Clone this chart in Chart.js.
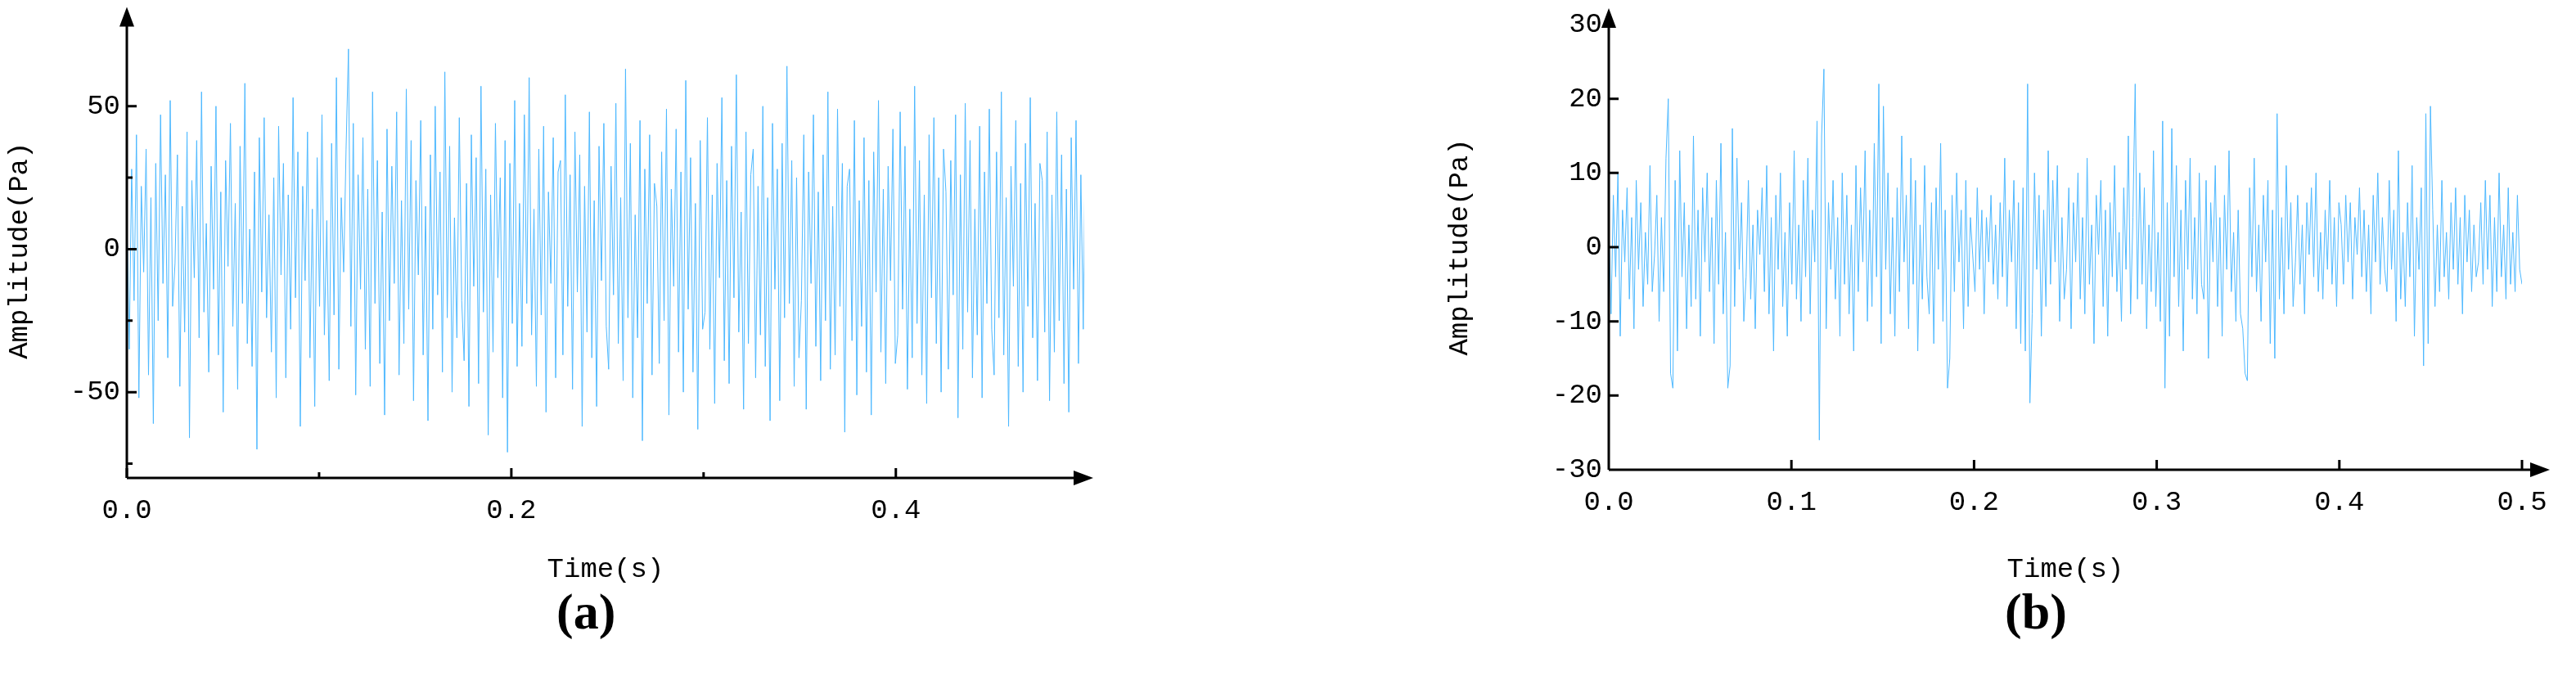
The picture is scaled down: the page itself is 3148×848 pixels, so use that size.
<!DOCTYPE html>
<html>
<head>
<meta charset="utf-8">
<script src="https://cdn.jsdelivr.net/npm/chart.js@4.4.1/dist/chart.umd.min.js"></script>
<style>
  body { margin: 0; background: #fff; width: 3148px; height: 848px; position: relative; overflow: hidden; }
  .box { position: absolute; top: 0; height: 720px; }
  #boxA { left: 0; width: 1360px; }
  #boxB { left: 1760px; width: 1388px; }
  .cap { position: absolute; top: 712px; font: bold 62px "Liberation Serif", serif; }
</style>
</head>
<body>
<div class="box" id="boxA"><canvas id="chartA"></canvas></div>
<div class="box" id="boxB"><canvas id="chartB"></canvas></div>
<div class="cap" style="left:680px">(a)</div>
<div class="cap" style="left:2450px">(b)</div>
<script>
// signal (a), sampled over 0 - 0.5 s
const ampA = [
  12,-35,28,-18,40,-52,22,-8,35,-44,18,-61,30,-25,47,-12,26,-38,52,-20,
  -5,33,-48,15,-29,41,-66,24,-10,38,-31,55,-22,9,-43,29,-14,50,-37,20,
  -57,31,-6,44,-27,16,-49,36,-19,58,-33,7,-41,27,-70,39,-15,46,-24,12,
  -36,25,-52,43,-9,30,-45,19,-28,53,-17,34,-62,22,-11,41,-38,14,-55,32,
  -20,47,-30,10,-46,37,-23,60,-42,18,-8,35,70,-27,44,-51,26,-14,39,-35,
  21,-48,55,-19,31,-40,13,-58,42,-25,29,-12,48,-44,17,-33,56,-21,38,-53,
  24,-9,45,-37,15,-60,33,-28,50,-16,27,-43,62,-24,36,-50,11,-31,46,-18,
  -39,23,-55,40,-13,32,-47,57,-22,28,-65,19,-36,44,-10,25,-52,38,-71,30,
  -26,52,-41,16,-34,47,-19,60,-30,14,-48,35,-23,43,-57,20,-12,39,-45,27,
  31,-37,54,-20,26,-49,41,-15,33,-62,22,-29,48,-38,17,-55,36,-11,44,-27,
  -42,29,-16,51,-33,18,-46,63,-24,37,-52,12,-31,45,-67,28,-19,40,-44,23,
  15,-40,34,-25,49,-58,21,-13,42,-36,27,-50,59,-21,32,-43,16,-63,38,-28,
  -22,46,-35,19,-54,30,-10,53,-39,24,-47,36,-17,61,-29,13,-56,41,-33,26,
  35,-45,22,-30,50,-41,18,-60,44,-14,28,-53,37,-24,64,-19,31,-48,25,-38,
  -18,40,-56,27,-12,47,-34,20,-46,33,-25,55,-42,15,-37,49,-20,30,-64,22,
  28,-32,45,-51,17,-27,39,-43,24,-58,34,-15,52,-36,21,-47,29,-11,42,-40,
  -30,48,-21,36,-49,14,-38,57,-26,31,-44,19,-54,40,-17,46,-33,25,-50,35,
  20,-42,31,-16,47,-59,26,-35,51,-22,38,-45,14,-30,43,-52,27,-19,49,-28,
  -44,34,-24,55,-37,18,-62,29,-13,45,-41,23,-50,37,-20,53,-31,16,-46,30,
  24,-29,41,-53,19,-36,48,-25,33,-47,21,-57,39,-14,45,-40,26,-28,52,18
];
// signal (b), sampled over 0 - 0.5 s
const ampB = [
  3,-9,7,-4,10,-12,5,-2,8,-7,4,-11,9,-3,6,-8,2,-5,11,-6,
  -1,7,-10,4,-6,12,20,-17,-19,9,-14,13,-4,6,-11,3,-8,15,-7,5,
  -12,8,-2,10,-6,4,-13,9,-5,14,-9,2,-19,-16,16,-8,12,-3,6,-10,
  -4,9,-7,3,-11,5,-1,8,-6,11,-9,4,-14,7,-3,10,-8,2,-12,6,
  -5,13,-7,3,-10,9,-4,12,-9,5,-2,17,-26,15,24,-11,6,-3,9,-7,
  4,-12,10,-5,7,-9,3,-14,11,-6,8,-2,13,-10,5,-8,14,-4,22,-13,
  19,-3,10,-9,4,-12,8,-6,15,-2,7,-11,12,-5,9,-14,3,-7,11,-4,
  -9,6,-13,8,-3,14,-10,5,-19,-15,7,-6,10,-2,5,-11,9,-8,4,-1,
  -6,8,-3,5,-9,4,-2,7,-5,3,-7,6,-4,12,-8,5,-2,9,-11,6,
  -13,8,-14,22,-21,-9,10,-3,7,-12,5,-8,13,-5,9,-2,11,-10,4,-7,
  -3,8,-11,6,-2,10,-7,4,-9,12,-5,3,-13,7,-1,9,-8,5,-12,6,
  -4,11,-6,2,-10,8,-3,15,-9,4,22,-7,10,-5,8,-11,3,-6,13,-8,
  2,-10,17,-19,6,-12,16,-4,11,-8,5,-14,9,-3,12,-7,4,-9,10,-5,
  -7,9,-15,6,-2,11,-8,4,-12,7,-3,13,-6,2,-10,5,-9,-11,-17,-18,
  8,-4,12,-6,3,-10,7,-2,9,-13,5,-15,18,-7,4,-9,11,-3,6,-8,
  -2,7,-5,3,-9,6,-1,8,-4,10,-6,2,-7,5,-3,9,-5,4,-8,6,
  3,-5,7,-2,6,-7,4,-1,8,-4,5,-6,3,-9,7,-2,10,-5,4,-3,
  -6,9,-3,5,-10,13,-7,2,-8,6,-4,11,-12,4,-3,8,-16,18,-13,19,
  5,-8,3,-6,9,-4,2,-7,6,-3,8,-5,4,-9,7,-2,5,-6,3,-4,
  -2,6,-5,9,-3,7,-8,4,-6,10,-4,3,-7,8,-5,2,-6,7,-3,-5
];
const yTicksA = [-50, 0, 50];
const yMinorA = [-75, -25, 25];
const xTicksA = [0.0, 0.2, 0.4];
const xMinorA = [0.1, 0.3];
const yTicksB = [-30, -20, -10, 0, 10, 20, 30];
const xTicksB = [0.0, 0.1, 0.2, 0.3, 0.4, 0.5];

const FONT = '"Liberation Mono", "DejaVu Sans Mono", monospace';

function toPoints(arr) {
  const dt = 0.5 / (arr.length - 1);
  return arr.map((v, i) => ({ x: i * dt, y: v }));
}

// axis lines, inward ticks and arrow heads
const axisPlugin = {
  id: 'axisArrows',
  afterDraw(chart, args, opts) {
    const ctx = chart.ctx;
    const xs = chart.scales.x, ys = chart.scales.y;
    const a = chart.chartArea;
    ctx.save();
    ctx.strokeStyle = '#000';
    ctx.fillStyle = '#000';
    ctx.lineWidth = 3;
    ctx.beginPath();
    ctx.moveTo(a.left, a.bottom); ctx.lineTo(a.left, a.top - 10);
    ctx.moveTo(a.left, a.bottom); ctx.lineTo(opts.xEnd, a.bottom);
    ctx.stroke();
    ctx.beginPath();
    ctx.moveTo(a.left, a.top - 20); ctx.lineTo(a.left - 9, a.top + 4); ctx.lineTo(a.left + 9, a.top + 4); ctx.closePath();
    ctx.fill();
    ctx.beginPath();
    ctx.moveTo(opts.xEnd + 18, a.bottom); ctx.lineTo(opts.xEnd - 6, a.bottom - 9); ctx.lineTo(opts.xEnd - 6, a.bottom + 9); ctx.closePath();
    ctx.fill();
    ctx.beginPath();
    opts.yMajor.forEach(v => { const p = ys.getPixelForValue(v); ctx.moveTo(a.left, p); ctx.lineTo(a.left + 12, p); });
    opts.xMajor.forEach(v => { const p = xs.getPixelForValue(v); ctx.moveTo(p, a.bottom); ctx.lineTo(p, a.bottom - 12); });
    opts.yMinor.forEach(v => { const p = ys.getPixelForValue(v); ctx.moveTo(a.left, p); ctx.lineTo(a.left + 7, p); });
    opts.xMinor.forEach(v => { const p = xs.getPixelForValue(v); ctx.moveTo(p, a.bottom); ctx.lineTo(p, a.bottom - 7); });
    ctx.stroke();
    ctx.restore();
  }
};

function makeChart(id, data, cfg) {
  return new Chart(document.getElementById(id), {
    type: 'line',
    data: { datasets: [{ data: toPoints(data), borderColor: '#4db8ff', borderWidth: 1, pointRadius: 0, tension: 0 }] },
    plugins: [axisPlugin],
    options: {
      responsive: true,
      maintainAspectRatio: false,
      animation: false,
      layout: { padding: { top: cfg.top, right: cfg.right, bottom: 0, left: 0 } },
      plugins: { legend: { display: false }, tooltip: { enabled: false }, axisArrows: cfg.axes },
      scales: {
        x: {
          type: 'linear', min: 0, max: cfg.xMax,
          grid: { display: false, drawTicks: false }, border: { display: false },
          afterBuildTicks: s => { s.ticks = cfg.xLabels.map(v => ({ value: v })); },
          ticks: { color: '#000', font: { family: FONT, size: 34 }, padding: 20, maxRotation: 0,
                   callback: v => v.toFixed(1) },
          title: { display: true, text: 'Time(s)', color: '#000', font: { family: FONT, size: 34 }, padding: { top: 12 } },
          afterFit: s => { s.height = cfg.xHeight; }
        },
        y: {
          min: cfg.yMin, max: cfg.yMax,
          grid: { display: false, drawTicks: false }, border: { display: false },
          afterBuildTicks: s => { s.ticks = cfg.yLabels.map(v => ({ value: v })); },
          ticks: { color: '#000', font: { family: FONT, size: 34 }, padding: 8 },
          title: { display: true, text: 'Amplitude(Pa)', color: '#000', font: { family: FONT, size: 34 }, padding: { bottom: 2 } },
          afterFit: s => { s.width = cfg.yWidth; }
        }
      }
    }
  });
}

makeChart('chartA', ampA, {
  top: 24, right: 35, xMax: 0.498, yMin: -80, yMax: 79, xHeight: 136, yWidth: 155,
  xLabels: xTicksA, yLabels: yTicksA,
  axes: { xEnd: 1318, yMajor: yTicksA, yMinor: yMinorA, xMajor: xTicksA, xMinor: xMinorA }
});
makeChart('chartB', ampB, {
  top: 30, right: 66, xMax: 0.5, yMin: -30, yMax: 30, xHeight: 146, yWidth: 206,
  xLabels: xTicksB, yLabels: yTicksB,
  axes: { xEnd: 1338, yMajor: [-20, -10, 0, 10, 20], yMinor: [], xMajor: [0.1, 0.2, 0.3, 0.4, 0.5], xMinor: [] }
});
</script>
</body>
</html>
